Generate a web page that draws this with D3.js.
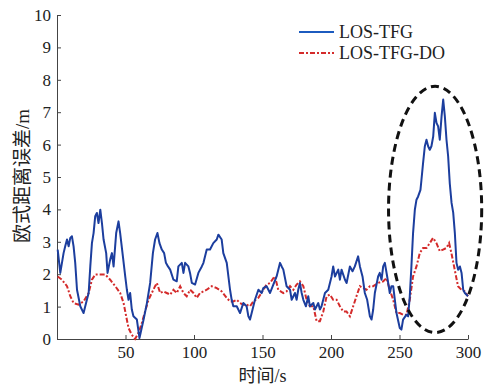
<!DOCTYPE html>
<html lang="zh">
<head>
<meta charset="UTF-8">
<title>欧式距离误差</title>
<script src="https://d3js.org/d3.v7.min.js"></script>
<style>
    body { margin: 0; background: #fff; }
    text { font-family: "Liberation Serif", "Noto Sans CJK SC", serif; fill: #222; }
    .axis path, .axis line { stroke: #444; }
</style>
</head>
<body>
<div id="chart"></div>
<script>
// data: [time s, error m]
var losTfg = [[0.5,2.76],[2.4,2.04],[4.8,2.65],[6,2.86],[7.3,3.07],[8.5,2.86],[9.7,3.12],[10.9,3.17],[12.1,2.86],[13.3,2.35],[14.6,1.52],[17,1.01],[19.4,0.8],[21.8,1.21],[23.1,1.42],[24.3,2.24],[25.5,2.96],[26.7,3.27],[27.9,3.79],[29.1,3.89],[30.3,3.58],[31.6,3.99],[32.8,3.58],[34,3.07],[35.9,2.65],[36.9,2.04],[38.8,2.45],[40.1,2.65],[41.3,2.24],[43.2,3.27],[44.9,3.63],[46.1,3.27],[48.1,2.55],[49.8,1.93],[51,1.52],[52.2,1.21],[53.4,1.42],[54.6,0.91],[55.8,0.7],[58.3,0.6],[60.2,0.03],[63.2,0.6],[65.6,1.1],[68,1.73],[70,2.65],[71.6,3.07],[73.3,3.27],[74.8,2.96],[76.5,2.76],[78.2,2.65],[79.5,2.35],[81,2.24],[82.6,2.14],[85,1.83],[87.4,1.78],[88.6,2.24],[91.1,2.35],[92.3,2.04],[93.5,2.35],[95.9,2.24],[97.1,2.04],[98.4,1.73],[100.8,1.68],[103.2,2.04],[105.7,2.24],[106.9,2.35],[109.3,2.76],[111.7,2.76],[114.1,2.96],[116.6,3.07],[117.8,3.22],[120.2,3.07],[121.4,2.65],[123.9,2.35],[126.3,1.52],[127.5,1.21],[128.7,1.01],[131.2,1.01],[133.6,0.8],[136,1.11],[138.4,1.01],[139.7,0.7],[140.9,0.6],[142.1,0.8],[144.5,1.21],[147,1.52],[149.4,1.42],[150.6,1.57],[153,1.63],[155.5,1.42],[157.9,1.68],[160.3,1.93],[162.8,2.35],[164,2.24],[165.2,2.14],[167.6,1.63],[170.1,1.52],[171.3,1.21],[173.7,1.42],[174.9,1.21],[176.1,1.52],[177.3,1.73],[178.6,1.42],[179.8,1.21],[181.7,1.01],[183.4,1.32],[184.6,1.01],[187.1,1.11],[188.3,0.91],[190.7,1.11],[191.9,0.91],[193.1,1.01],[195.6,1.42],[198,1.52],[200.4,1.93],[201.6,2.24],[202.9,1.93],[205.3,2.14],[206.5,1.83],[207.7,2.14],[210.2,1.83],[211.4,1.73],[213.8,2.24],[215.7,2.09],[217.4,2.24],[219.8,2.55],[221.1,2.24],[223,1.93],[224.7,1.42],[226.4,1.21],[228.4,0.7],[229.6,0.6],[230.8,0.91],[232,1.42],[234.4,1.93],[235.6,2.04],[236.9,1.83],[238.1,2.24],[239.3,2.35],[241,1.93],[242.9,1.42],[244.1,1.63],[245.4,1.63],[246.6,1.21],[247.8,0.8],[250.2,0.34],[251.4,0.29],[252.6,0.6],[255.1,0.75],[256.3,0.7],[257.5,1.32],[258.7,2.24],[259.9,3.27],[261.2,3.99],[262.4,4.3],[263.6,4.4],[265.3,4.6],[266,4.9],[267.2,5.43],[268.5,5.95],[269.7,6.15],[270.9,5.95],[272.1,5.84],[273.3,5.95],[274.6,6.25],[275.8,6.98],[277,6.67],[278.2,6.56],[279.4,6.15],[280.7,6.87],[281.9,7.39],[283.1,6.87],[284.3,6.15],[285.5,5.64],[286.7,4.8],[288,4.2],[289.2,3.9],[290.4,3.27],[291.6,2.35],[292.8,2.14],[294.1,2.24],[295.3,2.04],[296.5,1.52],[297.7,1.42],[300,1.32]];

var losTfgDo = [[0.5,1.93],[3.6,1.83],[7.3,1.63],[9.7,1.32],[12.1,1.11],[15.8,1.06],[19.4,1.16],[23.1,1.42],[25.5,1.83],[27.9,1.99],[31.6,1.99],[35.2,1.99],[38.8,1.83],[42.5,1.63],[46.1,1.42],[48.6,1.11],[50.5,0.7],[52.2,0.34],[54.6,0.13],[57,0],[59.5,0.19],[61.9,0.49],[64.3,0.85],[66.8,1.21],[69.2,1.42],[71.6,1.63],[72.9,1.73],[75.3,1.42],[77.7,1.47],[80.1,1.42],[82.6,1.37],[85,1.52],[87.4,1.42],[89.9,1.63],[92.3,1.42],[94.7,1.32],[97.2,1.52],[99.6,1.42],[102,1.27],[104.4,1.42],[106.9,1.47],[109.3,1.52],[112.9,1.63],[116.6,1.57],[120.2,1.47],[123.9,1.27],[126.3,1.16],[128.7,1.16],[131.2,1.21],[133.6,1.11],[136,1.06],[138.4,1.06],[140.9,1.01],[143.3,1.16],[147,1.27],[150.6,1.52],[153,1.68],[155.5,1.73],[157.9,1.88],[159.1,1.93],[161.5,1.52],[165.2,1.42],[167.6,1.47],[170.1,1.63],[172.5,1.52],[174.9,1.68],[177.3,1.78],[179.8,1.63],[182.2,1.21],[184.6,1.01],[187.1,1.01],[189.5,0.55],[191.9,0.55],[194.4,0.85],[196.8,1.32],[199.2,1.37],[201.6,1.21],[204.1,1.21],[206.5,1.01],[208.9,0.85],[211.3,0.85],[213.8,0.7],[216.2,1.01],[218.6,1.32],[221.1,1.63],[223.5,1.57],[225.9,1.52],[228.4,1.63],[230.8,1.63],[234.4,1.73],[238.1,1.78],[240.5,1.88],[242.9,1.52],[245.4,1.21],[247.8,0.8],[250.2,0.8],[252.6,0.75],[255.1,0.75],[257.5,1.21],[259.9,1.93],[262.4,2.24],[264.8,2.65],[267.2,2.81],[269.7,2.81],[272.1,2.96],[274.5,3.12],[277,2.96],[279.4,2.71],[281.8,2.76],[284.3,2.81],[286.2,2.96],[287.9,2.65],[290.3,2.14],[292.7,1.63],[295.2,1.52],[297.6,1.47],[300,1.32]];

var xTicks = [50, 100, 150, 200, 250, 300];
var yTicks = [0, 1, 2, 3, 4, 5, 6, 7, 8, 9, 10];
var seriesNames = ["LOS-TFG", "LOS-TFG-DO"];
// highlighted region: centre time, centre error, half width (s), half height (m)
var ellipse = [276, 4.0, 34, 3.8];

var width = 496, height = 388;
var margin = { top: 15, right: 28, bottom: 49, left: 57 };
var w = width - margin.left - margin.right,
    h = height - margin.top - margin.bottom;

var svg = d3.select("#chart").append("svg")
    .attr("width", width)
    .attr("height", height);

var g = svg.append("g")
    .attr("transform", "translate(" + margin.left + "," + margin.top + ")");

var x = d3.scaleLinear().domain([0, 300]).range([0, w]);
var y = d3.scaleLinear().domain([0, 10]).range([h, 0]);

// axes, ticks pointing inward like the original
var xAxis = g.append("g")
    .attr("class", "axis")
    .attr("transform", "translate(0," + h + ")")
    .call(d3.axisBottom(x).tickValues(xTicks).tickSize(-4).tickPadding(7).tickSizeOuter(0));
xAxis.selectAll("text").style("font-size", "17px");

var yAxis = g.append("g")
    .attr("class", "axis")
    .call(d3.axisLeft(y).tickValues(yTicks).tickSize(-4).tickPadding(6).tickSizeOuter(0));
yAxis.selectAll("text").style("font-size", "17px");

var line = d3.line()
    .x(function(d) { return x(d[0]); })
    .y(function(d) { return y(d[1]); });

g.append("path")
    .datum(losTfgDo)
    .attr("fill", "none")
    .attr("stroke", "#d42b2b")
    .attr("stroke-width", 2)
    .attr("stroke-dasharray", "5,2,2,2")
    .attr("d", line);

g.append("path")
    .datum(losTfg)
    .attr("fill", "none")
    .attr("stroke", "#1c3e9e")
    .attr("stroke-width", 2)
    .attr("stroke-linejoin", "round")
    .attr("d", line);

// dashed ellipse around the divergence
g.append("ellipse")
    .attr("cx", x(ellipse[0]))
    .attr("cy", y(ellipse[1]))
    .attr("rx", x(ellipse[2]) - x(0))
    .attr("ry", y(0) - y(ellipse[3]))
    .attr("fill", "none")
    .attr("stroke", "#111")
    .attr("stroke-width", 3)
    .attr("stroke-dasharray", "8,5");

// legend
var legend = svg.append("g").attr("transform", "translate(299,32)");
var styles = [
    { color: "#1c5bbf", dash: null },
    { color: "#d42b2b", dash: "5,2,2,2" }
];
seriesNames.forEach(function(name, i) {
    var row = legend.append("g").attr("transform", "translate(0," + (i * 21) + ")");
    row.append("line")
        .attr("x1", 0).attr("x2", 35)
        .attr("stroke", styles[i].color)
        .attr("stroke-width", 2)
        .attr("stroke-dasharray", styles[i].dash);
    row.append("text")
        .attr("x", 40)
        .attr("dy", "0.35em")
        .style("font-size", "18px")
        .text(name);
});

// axis titles
svg.append("text")
    .attr("x", margin.left + x(150))
    .attr("y", 382)
    .attr("text-anchor", "middle")
    .style("font-size", "18px")
    .text("时间/s");

svg.append("text")
    .attr("transform", "translate(29," + 176 + ") rotate(-90)")
    .attr("text-anchor", "middle")
    .style("font-size", "19px")
    .text("欧式距离误差/m");
</script>
</body>
</html>
